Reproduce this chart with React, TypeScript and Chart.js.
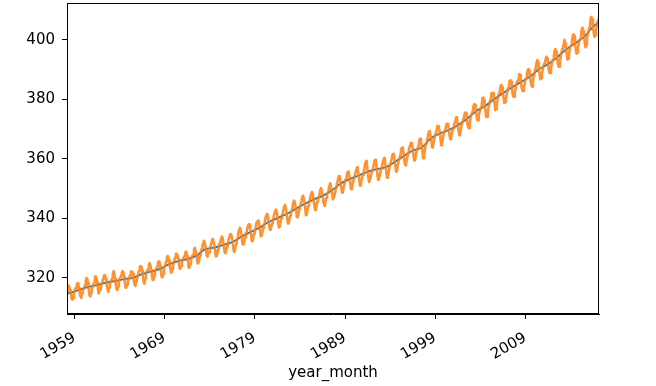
import { useEffect, useRef } from "react";
import { Chart, registerables } from "chart.js";

Chart.register(...registerables);

// Monthly mean CO2 (ppm), starting 1958-03, one row per year
const START_YEAR = 1958;
const START_MONTH = 3;
const co2Monthly: number[] = [
  315.7, 317.5, 317.5, 317.1, 315.9, 314.9, 313.2, 312.7, 313.3, 314.7, // 1958 (Mar-Dec)
  315.6, 316.4, 316.7, 317.7, 318.3, 318.2, 316.5, 314.8, 313.8, 313.3, 314.8, 315.6, // 1959
  316.4, 317.0, 317.6, 319.0, 320.0, 319.6, 318.2, 315.9, 314.2, 313.8, 315.0, 316.2, // 1960
  316.9, 317.7, 318.5, 319.5, 320.6, 319.8, 318.6, 316.8, 314.8, 315.4, 316.1, 317.0, // 1961
  317.9, 318.6, 319.7, 320.6, 321.0, 320.6, 319.6, 317.4, 316.3, 315.4, 316.7, 317.7, // 1962
  318.7, 319.1, 319.9, 321.4, 322.3, 321.5, 319.7, 317.8, 316.2, 316.0, 317.1, 318.3, // 1963
  319.6, 320.1, 320.7, 321.8, 322.3, 321.9, 320.4, 318.7, 316.7, 316.8, 317.8, 318.7, // 1964
  319.4, 320.4, 320.9, 322.1, 322.2, 321.9, 321.4, 318.8, 317.8, 317.3, 318.9, 319.4, // 1965
  320.6, 321.6, 322.4, 323.9, 324.0, 323.8, 322.4, 320.4, 318.6, 318.1, 319.8, 321.1, // 1966
  322.1, 322.5, 323.0, 324.4, 325.0, 324.1, 322.6, 320.9, 319.3, 319.3, 320.7, 322.0, // 1967
  322.6, 323.2, 323.9, 325.0, 325.6, 325.4, 324.1, 322.1, 320.3, 320.3, 321.3, 322.9, // 1968
  324.0, 324.4, 325.6, 326.7, 327.4, 326.7, 325.9, 323.7, 322.4, 321.8, 322.9, 324.1, // 1969
  325.0, 326.0, 326.9, 328.1, 328.1, 327.7, 326.4, 324.7, 323.1, 323.2, 324.0, 325.1, // 1970
  326.2, 326.7, 327.2, 327.8, 328.9, 328.6, 327.3, 325.5, 323.4, 323.6, 324.8, 326.0, // 1971
  326.8, 327.6, 327.8, 329.7, 330.1, 329.1, 328.1, 326.3, 324.9, 325.1, 326.5, 327.6, // 1972
  328.5, 329.6, 330.3, 331.5, 332.5, 332.1, 330.9, 329.3, 327.5, 327.2, 328.2, 328.6, // 1973
  329.4, 330.7, 331.5, 332.7, 333.2, 332.2, 331.1, 329.1, 327.3, 327.3, 328.3, 329.6, // 1974
  330.7, 331.5, 331.9, 333.2, 333.9, 333.5, 332.0, 330.0, 328.5, 328.3, 329.4, 330.6, // 1975
  331.6, 332.8, 333.5, 334.6, 334.8, 334.0, 333.1, 330.7, 329.0, 328.8, 330.2, 331.6, // 1976
  332.7, 333.1, 335.0, 336.1, 336.9, 336.2, 334.9, 332.6, 331.3, 331.3, 332.4, 333.6, // 1977
  335.0, 335.3, 336.7, 337.7, 338.0, 338.0, 336.4, 334.4, 332.4, 332.4, 333.8, 334.9, // 1978
  336.1, 336.7, 338.3, 339.0, 339.2, 339.3, 337.5, 335.8, 334.0, 334.2, 335.3, 336.8, // 1979
  337.9, 338.3, 340.0, 340.9, 341.5, 341.3, 339.4, 337.7, 336.2, 336.2, 337.3, 338.3, // 1980
  339.3, 340.6, 341.6, 342.5, 343.0, 342.5, 340.8, 338.4, 337.0, 337.1, 338.6, 339.9, // 1981
  341.0, 341.7, 342.8, 344.0, 344.6, 343.8, 342.3, 340.1, 338.3, 338.3, 339.6, 340.9, // 1982
  341.7, 342.9, 343.3, 345.3, 346.0, 345.6, 344.2, 342.3, 340.4, 340.4, 341.6, 343.1, // 1983
  344.1, 344.8, 345.5, 347.2, 347.7, 346.9, 345.4, 343.3, 341.1, 341.4, 343.0, 344.2, // 1984
  345.0, 346.0, 347.4, 348.4, 348.9, 348.3, 346.6, 344.7, 343.1, 342.8, 344.2, 345.6, // 1985
  346.3, 347.0, 347.9, 349.6, 350.2, 349.5, 347.9, 345.9, 344.9, 344.2, 345.7, 346.9, // 1986
  348.0, 348.5, 349.4, 351.0, 351.8, 351.3, 349.5, 348.1, 346.4, 346.4, 347.8, 349.0, // 1987
  350.4, 351.7, 352.2, 353.6, 354.2, 353.8, 352.4, 350.4, 348.7, 348.9, 350.1, 351.3, // 1988
  352.8, 353.1, 353.7, 355.4, 355.7, 355.1, 353.9, 351.7, 349.8, 350.0, 351.3, 352.5, // 1989
  353.7, 354.7, 355.4, 356.2, 357.2, 356.2, 354.8, 352.9, 351.0, 351.2, 352.8, 354.2, // 1990
  354.7, 355.8, 357.2, 358.6, 359.3, 358.2, 356.2, 354.0, 352.2, 352.2, 353.8, 355.0, // 1991
  356.0, 356.7, 357.8, 359.2, 359.7, 359.3, 357.0, 355.0, 353.0, 353.3, 354.2, 355.4, // 1992
  356.7, 357.2, 358.4, 359.5, 360.3, 359.6, 357.6, 355.5, 353.7, 354.0, 355.3, 356.8, // 1993
  358.4, 358.9, 360.0, 361.3, 361.7, 361.0, 359.6, 357.5, 355.8, 356.0, 357.6, 359.0, // 1994
  360.0, 361.0, 361.6, 363.5, 363.8, 363.3, 361.9, 359.5, 358.1, 357.8, 359.6, 360.7, // 1995
  362.1, 363.3, 364.0, 364.7, 365.4, 365.0, 363.7, 361.5, 359.5, 359.6, 360.8, 362.3, // 1996
  363.2, 364.0, 364.6, 366.4, 366.8, 365.6, 364.5, 362.5, 360.2, 360.8, 362.4, 364.3, // 1997
  365.3, 366.2, 367.3, 368.6, 369.3, 368.9, 367.6, 365.8, 363.9, 364.2, 365.5, 367.0, // 1998
  368.2, 368.9, 369.6, 371.1, 371.0, 370.4, 369.3, 366.9, 364.6, 365.1, 366.7, 368.0, // 1999
  369.1, 369.5, 370.5, 371.7, 371.8, 371.7, 370.1, 368.1, 366.6, 366.7, 368.3, 369.5, // 2000
  370.3, 371.5, 372.1, 372.9, 374.0, 373.3, 371.6, 369.6, 368.0, 368.1, 369.7, 371.2, // 2001
  372.4, 373.1, 373.5, 374.9, 375.6, 375.4, 374.0, 371.5, 370.7, 370.3, 372.1, 373.8, // 2002
  374.7, 375.6, 376.1, 377.7, 378.4, 378.1, 376.6, 374.5, 373.0, 373.0, 374.4, 375.7, // 2003
  376.8, 377.4, 378.4, 380.5, 380.6, 379.6, 377.8, 375.8, 374.1, 374.2, 375.8, 377.4, // 2004
  378.3, 379.6, 380.1, 382.1, 382.2, 382.1, 380.7, 378.7, 376.4, 376.8, 378.3, 380.0, // 2005
  381.4, 382.0, 382.6, 384.4, 384.9, 384.0, 382.3, 380.5, 378.8, 379.1, 380.1, 381.7, // 2006
  382.6, 383.7, 384.3, 386.2, 386.4, 385.9, 384.5, 381.8, 380.9, 380.9, 382.4, 383.6, // 2007
  385.1, 385.8, 385.8, 386.8, 388.5, 388.1, 386.3, 384.1, 383.1, 382.8, 384.0, 385.1, // 2008
  386.7, 387.1, 388.5, 389.6, 390.2, 389.6, 388.1, 386.1, 384.7, 384.3, 386.1, 387.5, // 2009
  388.6, 390.1, 391.0, 392.4, 393.2, 392.2, 390.3, 388.5, 386.8, 387.2, 388.7, 389.8, // 2010
  391.3, 391.9, 392.5, 393.4, 394.3, 393.7, 392.6, 390.2, 389.0, 388.9, 390.2, 391.8, // 2011
  393.1, 393.4, 394.4, 396.4, 396.9, 395.9, 394.5, 392.5, 391.1, 391.0, 393.0, 394.3, // 2012
  395.6, 396.9, 397.3, 398.4, 400.0, 398.9, 397.4, 395.4, 393.4, 393.7, 395.2, 396.8, // 2013
  397.9, 398.1, 399.5, 401.3, 401.9, 401.3, 399.1, 397.2, 395.4, 395.7, 397.2, 398.8, // 2014
  399.9, 400.3, 401.5, 403.5, 404.1, 402.9, 401.6, 399.0, 397.5, 398.3, 400.2, 401.9, // 2015
  402.6, 404.1, 404.9, 407.5, 407.7, 406.8, 404.4, 402.3, 401.1, 401.6, 403.6, 404.5, // 2016
  406.2, 406.5, 407.2, // 2017 (Jan-Mar)
];

// Deseasonalised trend: start point, yearly mid-year values 1958..2016, end point
const trendYears: number[] = [
  1958.17,
  ...Array.from({ length: 59 }, (_, i) => 1958.5 + i),
  2017.17,
];
const trendValues: number[] = [
  314.7,
  315.0, 315.98, 316.91, 317.64, 318.45, 318.99, 319.62, 320.04, 321.37, 322.18,
  323.05, 324.62, 325.68, 326.32, 327.46, 329.68, 330.19, 331.13, 332.03, 333.84,
  335.41, 336.84, 338.76, 340.12, 341.48, 343.15, 344.85, 346.35, 347.61, 349.31,
  351.69, 353.2, 354.45, 355.7, 356.54, 357.21, 358.96, 360.97, 362.74, 363.88,
  366.84, 368.54, 369.71, 371.32, 373.45, 375.98, 377.7, 379.98, 382.09, 384.02,
  385.83, 387.64, 390.1, 391.85, 394.06, 396.74, 398.81, 401.01, 404.41,
  406.0,
];

const xTickYears = [1959, 1969, 1979, 1989, 1999, 2009];
const yTickValues = [320, 340, 360, 380, 400];

const FONT = "'DejaVu Sans', sans-serif";

export default function App() {
  const ref = useRef<HTMLCanvasElement | null>(null);

  useEffect(() => {
    if (!ref.current) return;
    const monthly = co2Monthly.map((v, i) => ({
      x: START_YEAR + (i + START_MONTH - 1) / 12,
      y: v,
    }));
    const trend = trendValues.map((v, i) => ({ x: trendYears[i], y: v }));
    const xMin = monthly[0].x;
    const xMax = monthly[monthly.length - 1].x;

    const framePlugin = {
      id: "frame",
      afterDatasetsDraw(chart: any) {
        const { ctx, chartArea: a } = chart;
        ctx.save();
        ctx.strokeStyle = "#000";
        ctx.lineWidth = 1;
        ctx.strokeRect(a.left + 0.5, a.top + 0.5, a.right - a.left - 1, a.bottom - a.top - 1);
        ctx.restore();
      },
    };

    const chart = new Chart(ref.current, {
      type: "line",
      data: {
        datasets: [
          {
            label: "average",
            data: monthly,
            borderColor: "rgba(255,127,14,0.85)",
            borderWidth: 2.6,
            borderJoinStyle: "round",
            pointRadius: 0,
            tension: 0,
            fill: false,
          },
          {
            label: "trend",
            data: trend,
            borderColor: "#1f77b4",
            borderWidth: 1.8,
            pointRadius: 0,
            tension: 0.3,
            fill: false,
          },
        ],
      },
      options: {
        responsive: false,
        animation: false,
        layout: { padding: { top: 3, right: 57, left: 0, bottom: 0 } },
        plugins: {
          legend: { display: false },
          tooltip: { enabled: false },
        },
        scales: {
          x: {
            type: "linear",
            min: xMin,
            max: xMax,
            afterBuildTicks: (s: any) => {
              s.ticks = xTickYears.map((v) => ({ value: v }));
            },
            afterFit: (s: any) => {
              s.height = 72;
              s.paddingLeft = 0;
              s.paddingRight = 0;
            },
            ticks: {
              autoSkip: false,
              minRotation: 30,
              maxRotation: 30,
              color: "#000",
              padding: 10,
              font: { family: FONT, size: 15 },
              callback: (v: any) => String(v),
            },
            grid: {
              display: true,
              drawOnChartArea: false,
              drawTicks: true,
              tickLength: 5,
              tickColor: "#000",
            },
            border: { display: true, color: "#000", width: 1 },
            title: {
              display: true,
              text: "year_month",
              color: "#000",
              font: { family: FONT, size: 15 },
              padding: { top: 0, bottom: 4 },
            },
          },
          y: {
            type: "linear",
            min: 307.9,
            max: 412.4,
            afterBuildTicks: (s: any) => {
              s.ticks = yTickValues.map((v) => ({ value: v }));
            },
            afterFit: (s: any) => {
              s.width = 67;
              s.paddingTop = 0;
              s.paddingBottom = 0;
            },
            ticks: {
              color: "#000",
              padding: 7,
              font: { family: FONT, size: 15 },
              callback: (v: any) => String(v),
            },
            grid: {
              display: true,
              drawOnChartArea: false,
              drawTicks: true,
              tickLength: 5,
              tickColor: "#000",
            },
            border: { display: true, color: "#000", width: 1 },
          },
        },
      },
      plugins: [framePlugin],
    });
    return () => chart.destroy();
  }, []);

  return (
    <div style={{ position: "fixed", left: 0, top: 0, width: 656, height: 386, background: "#fff" }}>
      <canvas ref={ref} width={656} height={386} />
    </div>
  );
}
